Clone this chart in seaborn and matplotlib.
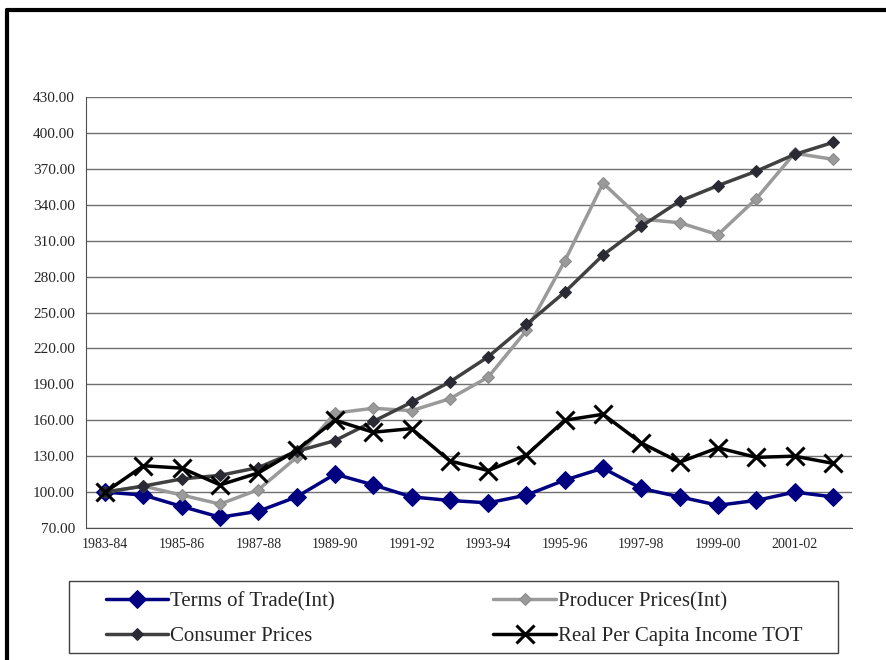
import numpy as np
import pandas as pd
import matplotlib.pyplot as plt
import seaborn as sns
from matplotlib.lines import Line2D
from matplotlib.patches import Rectangle

years = ['1983-84', '1984-85', '1985-86', '1986-87', '1987-88', '1988-89', '1989-90',
         '1990-91', '1991-92', '1992-93', '1993-94', '1994-95', '1995-96', '1996-97',
         '1997-98', '1998-99', '1999-00', '2000-01', '2001-02', '2002-03']
terms_of_trade = [100, 97.5, 88, 79, 84, 96, 115, 106, 96, 93, 91, 97.5, 110, 120, 103, 96, 89, 93, 100, 96]
producer_prices = [100, 105, 97.5, 90, 102, 129, 166, 170, 168, 178, 196, 235, 293, 358, 328, 325, 315, 345, 383, 378]
consumer_prices = [100, 105, 111, 114, 120.5, 134, 143, 159, 175, 192, 213, 240, 267, 298, 322, 343, 356, 368, 382, 392]
real_income = [100, 122, 120, 106, 116, 135, 160, 150, 153, 126, 118, 131, 160, 165, 141, 125, 137, 129, 130, 124]

df = pd.DataFrame({'pos': np.arange(len(years)), 'year': years,
                   'tot': terms_of_trade, 'pp': producer_prices,
                   'cp': consumer_prices, 'real': real_income})

sns.set_style('white')
plt.rcParams['font.family'] = ['Liberation Serif', 'DejaVu Serif']

fig = plt.figure(figsize=(8.86, 6.6), dpi=100)
ax = fig.add_axes([86/886, 1-528/660, (852-86)/886, (528-97)/660])

#----------series----------
sns.lineplot(data=df, x='pos', y='tot', ax=ax, color='#000080', lw=2.5, ls='-',
             marker='D', markersize=9, markeredgecolor='#000080', label='Terms of Trade(Int)')
sns.lineplot(data=df, x='pos', y='pp', ax=ax, color='#9a9a9a', lw=2.5, ls='-',
             marker='D', markersize=6, markeredgecolor='#8a8a8a', label='Producer Prices(Int)')
sns.lineplot(data=df, x='pos', y='cp', ax=ax, color='#404040', lw=2.5, ls='-',
             marker='D', markersize=6, markerfacecolor='#2a2a35', markeredgecolor='#2a2a35',
             label='Consumer Prices')
sns.lineplot(data=df, x='pos', y='real', ax=ax, color='black', lw=2.5, ls='-',
             marker='x', markersize=13, markeredgewidth=2.2, markeredgecolor='black',
             label='Real Per Capita Income TOT')

#----------axes----------
ax.set_xlim(-0.5, len(years) - 0.5)
ax.set_ylim(70, 430)
ax.set_yticks(np.arange(70, 431, 30))
ax.set_yticklabels([f'{v:.2f}' for v in np.arange(70, 431, 30)], fontsize=11)
ax.set_xticks(df['pos'][::2])
ax.set_xticklabels(df['year'][::2], fontsize=10)
ax.set_xticks(np.arange(-0.5, len(years), 1), minor=True)
ax.tick_params(axis='x', which='major', length=0, pad=7)
ax.tick_params(axis='x', which='minor', length=4, color='#808080', direction='out')
ax.tick_params(axis='y', length=5, color='#606060', direction='out', pad=3)
ax.set_xlabel('')
ax.set_ylabel('')
ax.grid(axis='y', color='#707070', lw=1)
ax.set_axisbelow(True)
for s in ['top', 'right']:
    ax.spines[s].set_visible(False)
ax.spines['left'].set_color('#505050')
ax.spines['bottom'].set_color('#505050')

#----------legend----------
handles, labels = ax.get_legend_handles_labels()
ax.get_legend().remove()
order = [0, 2, 1, 3]
fig.legend([handles[i] for i in order], [labels[i] for i in order],
           ncol=2, frameon=False, fontsize=15, handlelength=3.0, columnspacing=7.6,
           loc='center', bbox_to_anchor=(454/886, 1-619/660), labelspacing=0.75, handletextpad=0.1)
fig.add_artist(Rectangle((69/886, 1-653/660), (838-69)/886, 72/660, transform=fig.transFigure,
                         fill=False, edgecolor='#404040', lw=1))

# outer frame
fig.add_artist(Line2D([7/886, 7/886], [0, 1-10/660], transform=fig.transFigure, color='black', lw=3))
fig.add_artist(Line2D([7/886, 1], [1-10/660, 1-10/660], transform=fig.transFigure, color='black', lw=3))

plt.savefig('out.png', dpi=100)
